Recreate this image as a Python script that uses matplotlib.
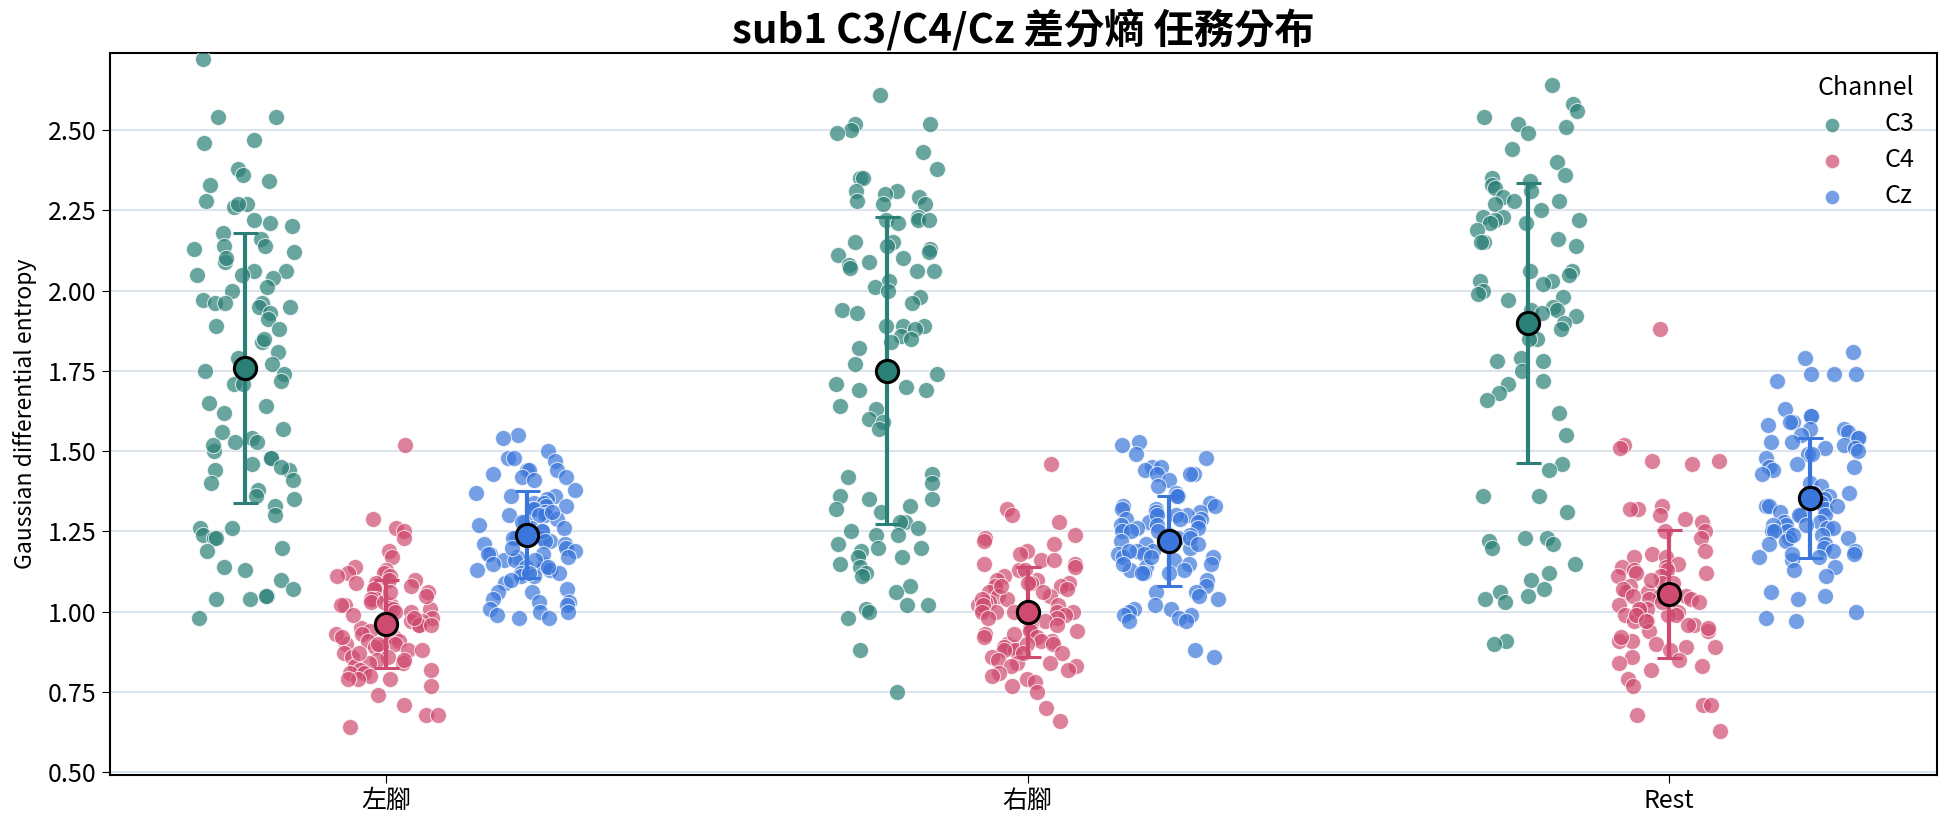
import numpy as np
import matplotlib
matplotlib.use("Agg")
import matplotlib.pyplot as plt

plt.rcParams['font.family'] = ['Noto Sans CJK TC', 'DejaVu Sans']

# categories / channels
tasks = ['左腳', '右腳', 'Rest']
channels = ['C3', 'C4', 'Cz']
colors = {'C3': '#2a7f76', 'C4': '#cf4a6f', 'Cz': '#3a76db'}

# per-trial values
left_c3 = [2.72, 2.54, 2.54, 2.47, 2.46, 2.38, 2.36, 2.33, 2.34, 2.28, 2.26, 2.27, 2.27,
           2.22, 2.21, 2.20, 2.18, 2.16, 2.14, 2.14, 2.13, 2.12, 2.09, 2.10, 2.06, 2.06,
           2.05, 2.04, 2.05, 2.01, 2.00, 1.97, 1.96, 1.95, 1.96, 1.95, 1.96, 1.93, 1.91,
           1.89, 1.88, 1.84, 1.85, 1.81, 1.79, 1.77, 1.74, 1.75, 1.72, 1.71, 1.71, 1.65,
           1.64, 1.62, 1.57, 1.56, 1.54, 1.53, 1.53, 1.50, 1.52, 1.48, 1.48, 1.46, 1.44,
           1.44, 1.45, 1.40, 1.41, 1.38, 1.36, 1.35, 1.33, 1.30, 1.26, 1.26, 1.24, 1.23,
           1.23, 1.20, 1.19, 1.14, 1.13, 1.10, 1.07, 1.05, 1.04, 1.04, 1.05, 0.98]
left_c4 = [1.52, 1.29, 1.26, 1.25, 1.23, 1.19, 1.17, 1.14, 1.13, 1.12, 1.12, 1.11, 1.10,
           1.09, 1.11, 1.10, 1.09, 1.08, 1.07, 1.07, 1.06, 1.04, 1.04, 1.03, 1.03, 1.02,
           1.02, 1.01, 1.01, 1.00, 0.98, 0.97, 0.97, 0.96, 0.96, 0.95, 0.95, 0.94, 0.93,
           0.92, 0.91, 0.91, 0.90, 0.90, 0.89, 0.89, 0.88, 0.87, 0.86, 0.86, 0.85, 0.84,
           0.84, 0.83, 0.82, 0.82, 0.81, 0.81, 0.80, 0.79, 0.79, 0.77, 0.79, 0.74, 0.71,
           0.68, 0.68, 0.64, 1.06, 1.05, 1.02, 1.00, 0.99, 0.98, 0.96, 0.95, 0.93, 0.92,
           0.90, 0.88, 0.87, 0.85]
left_cz = [1.55, 1.54, 1.50, 1.48, 1.48, 1.47, 1.44, 1.44, 1.44, 1.43, 1.42, 1.42, 1.41,
           1.38, 1.37, 1.36, 1.36, 1.35, 1.34, 1.34, 1.33, 1.33, 1.32, 1.32, 1.31, 1.30,
           1.30, 1.30, 1.29, 1.28, 1.27, 1.26, 1.26, 1.25, 1.23, 1.23, 1.23, 1.22, 1.21,
           1.21, 1.20, 1.19, 1.18, 1.18, 1.17, 1.17, 1.16, 1.16, 1.15, 1.15, 1.14, 1.14,
           1.13, 1.13, 1.12, 1.12, 1.11, 1.11, 1.09, 1.07, 1.06, 1.06, 1.04, 1.03, 1.03,
           1.02, 1.01, 1.00, 1.00, 0.99, 0.98, 0.98, 1.31, 1.28, 1.25, 1.22, 1.20, 1.18,
           1.16, 1.14, 1.12, 1.10]
right_c3 = [2.61, 2.52, 2.52, 2.50, 2.49, 2.43, 2.38, 2.35, 2.35, 2.31, 2.31, 2.30, 2.29,
            2.28, 2.27, 2.27, 2.23, 2.22, 2.22, 2.22, 2.21, 2.15, 2.15, 2.14, 2.13, 2.12,
            2.11, 2.10, 2.09, 2.08, 2.07, 2.06, 2.06, 2.03, 2.01, 2.00, 1.98, 1.96, 1.94,
            1.93, 1.89, 1.89, 1.89, 1.88, 1.86, 1.85, 1.84, 1.82, 1.77, 1.74, 1.71, 1.70,
            1.69, 1.69, 1.64, 1.63, 1.60, 1.59, 1.57, 1.43, 1.42, 1.40, 1.36, 1.35, 1.35,
            1.33, 1.32, 1.31, 1.28, 1.28, 1.26, 1.25, 1.24, 1.24, 1.21, 1.20, 1.20, 1.19,
            1.17, 1.17, 1.15, 1.14, 1.12, 1.11, 1.08, 1.06, 1.02, 1.02, 1.01, 1.00, 0.98,
            0.88, 0.75]
right_c4 = [1.46, 1.32, 1.30, 1.28, 1.24, 1.23, 1.22, 1.21, 1.19, 1.18, 1.16, 1.16, 1.15,
            1.15, 1.14, 1.13, 1.13, 1.11, 1.10, 1.10, 1.09, 1.09, 1.09, 1.08, 1.08, 1.07,
            1.06, 1.05, 1.05, 1.04, 1.03, 1.03, 1.02, 1.02, 1.01, 1.00, 1.00, 1.00, 1.00,
            0.99, 0.98, 0.97, 0.96, 0.95, 0.94, 0.94, 0.93, 0.92, 0.92, 0.91, 0.91, 0.90,
            0.90, 0.89, 0.89, 0.88, 0.88, 0.87, 0.86, 0.85, 0.84, 0.84, 0.83, 0.83, 0.82,
            0.81, 0.80, 0.79, 0.78, 0.77, 0.75, 0.70, 0.66, 1.08, 1.06, 1.04, 1.02, 1.00,
            0.98, 0.96, 0.93, 0.90, 0.87]
right_cz = [1.53, 1.52, 1.49, 1.48, 1.45, 1.45, 1.44, 1.43, 1.43, 1.43, 1.41, 1.39, 1.37,
            1.36, 1.36, 1.34, 1.33, 1.33, 1.32, 1.32, 1.31, 1.31, 1.30, 1.30, 1.29, 1.29,
            1.29, 1.28, 1.28, 1.27, 1.26, 1.26, 1.25, 1.25, 1.24, 1.24, 1.23, 1.22, 1.21,
            1.20, 1.19, 1.19, 1.18, 1.18, 1.17, 1.17, 1.16, 1.15, 1.15, 1.14, 1.13, 1.13,
            1.12, 1.12, 1.10, 1.08, 1.06, 1.06, 1.05, 1.04, 1.02, 1.01, 1.01, 1.00, 0.99,
            0.99, 0.98, 0.97, 0.97, 0.88, 0.86, 1.30, 1.27, 1.25, 1.23, 1.21, 1.19, 1.17,
            1.15, 1.12]
rest_c3 = [2.64, 2.58, 2.56, 2.54, 2.52, 2.51, 2.49, 2.44, 2.40, 2.36, 2.35, 2.34, 2.33,
           2.32, 2.31, 2.29, 2.28, 2.28, 2.27, 2.25, 2.23, 2.23, 2.22, 2.22, 2.21, 2.21,
           2.19, 2.16, 2.15, 2.15, 2.14, 2.06, 2.06, 2.05, 2.03, 2.03, 2.02, 2.00, 1.99,
           1.98, 1.97, 1.95, 1.94, 1.94, 1.93, 1.92, 1.91, 1.90, 1.88, 1.85, 1.85, 1.79,
           1.78, 1.78, 1.75, 1.72, 1.71, 1.68, 1.66, 1.62, 1.55, 1.46, 1.44, 1.36, 1.36,
           1.31, 1.23, 1.23, 1.22, 1.21, 1.20, 1.15, 1.12, 1.10, 1.07, 1.06, 1.05, 1.04,
           1.03, 0.91, 0.90]
rest_c4 = [1.88, 1.52, 1.51, 1.47, 1.47, 1.46, 1.33, 1.32, 1.32, 1.30, 1.29, 1.28, 1.25,
           1.25, 1.23, 1.19, 1.18, 1.17, 1.17, 1.15, 1.14, 1.14, 1.13, 1.13, 1.12, 1.11,
           1.11, 1.09, 1.09, 1.08, 1.07, 1.06, 1.06, 1.05, 1.05, 1.04, 1.04, 1.03, 1.02,
           1.01, 1.01, 1.00, 0.99, 0.99, 0.99, 0.97, 0.97, 0.96, 0.96, 0.94, 0.94, 0.91,
           0.91, 0.90, 0.89, 0.89, 0.88, 0.86, 0.85, 0.84, 0.83, 0.82, 0.79, 0.77, 0.71,
           0.71, 0.68, 0.63, 1.12, 1.10, 1.07, 1.05, 1.03, 1.01, 0.99, 0.97, 0.95, 0.92]
rest_cz = [1.81, 1.79, 1.74, 1.74, 1.74, 1.72, 1.63, 1.61, 1.61, 1.59, 1.59, 1.58, 1.57,
           1.57, 1.56, 1.55, 1.54, 1.54, 1.53, 1.53, 1.52, 1.51, 1.51, 1.50, 1.49, 1.49,
           1.48, 1.46, 1.45, 1.45, 1.44, 1.43, 1.40, 1.39, 1.37, 1.37, 1.36, 1.35, 1.34,
           1.34, 1.33, 1.33, 1.32, 1.31, 1.30, 1.30, 1.28, 1.28, 1.27, 1.27, 1.26, 1.26,
           1.25, 1.25, 1.25, 1.24, 1.23, 1.23, 1.22, 1.21, 1.20, 1.19, 1.19, 1.18, 1.17,
           1.17, 1.16, 1.14, 1.13, 1.11, 1.06, 1.05, 1.04, 1.00, 0.98, 0.97, 1.33, 1.30,
           1.27, 1.24, 1.21, 1.18]

# mean and sd
means = {'左腳': [1.76, 0.962, 1.240], '右腳': [1.75, 1.00, 1.221], 'Rest': [1.898, 1.056, 1.354]}
sds = {'左腳': [0.42, 0.137, 0.136], '右腳': [0.478, 0.14, 0.14], 'Rest': [0.436, 0.199, 0.186]}

values = {
    '左腳': [left_c3, left_c4, left_cz],
    '右腳': [right_c3, right_c4, right_cz],
    'Rest': [rest_c3, rest_c4, rest_cz],
}

fig, ax = plt.subplots(figsize=(19.44, 8.27), dpi=100)
fig.subplots_adjust(left=0.0566, right=0.9964, bottom=0.063, top=0.936)

rng = np.random.default_rng(3)
offsets = [-0.22, 0.0, 0.22]

for i, task in enumerate(tasks):
    for j, ch in enumerate(channels):
        y = np.array(values[task][j])
        x = i + offsets[j] + rng.uniform(-0.08, 0.08, len(y))
        ax.scatter(x, y, s=135, color=colors[ch], alpha=0.7, edgecolor='white',
                   linewidth=0.8, zorder=3, label=ch if i == 0 else None)

for i, task in enumerate(tasks):
    for j, ch in enumerate(channels):
        xc = i + offsets[j]
        ax.errorbar(xc, means[task][j], yerr=sds[task][j], fmt='none', ecolor=colors[ch],
                    elinewidth=3, capsize=9, capthick=2.2, zorder=4)
        ax.plot(xc, means[task][j], 'o', ms=16, mfc=colors[ch], mec='black', mew=2.2, zorder=5)

ax.set_xticks(range(len(tasks)))
ax.set_xticklabels(tasks)
ax.set_xlim(-0.431, 2.418)
ax.set_ylim(0.492, 2.74)
ax.set_yticks([0.5, 0.75, 1.0, 1.25, 1.5, 1.75, 2.0, 2.25, 2.5])
ax.yaxis.set_major_formatter(matplotlib.ticker.FormatStrFormatter('%.2f'))
ax.tick_params(labelsize=18, length=6)
ax.set_ylabel('Gaussian differential entropy', fontsize=16.5, labelpad=8)
ax.grid(axis='y', color='#dbe3ec', linewidth=1.4, zorder=0)
ax.set_axisbelow(True)
for s in ax.spines.values():
    s.set_linewidth(1.5)
ax.set_title('sub1 C3/C4/Cz 差分熵 任務分布', fontsize=29, fontweight='bold', pad=6)

leg = ax.legend(title='Channel', loc='upper right', frameon=False, fontsize=18,
                title_fontsize=18, markerscale=0.9, handletextpad=1.1, borderaxespad=0.5,
                labelspacing=0.4)
leg._legend_box.align = 'right'

fig.savefig('out.png', dpi=100)
